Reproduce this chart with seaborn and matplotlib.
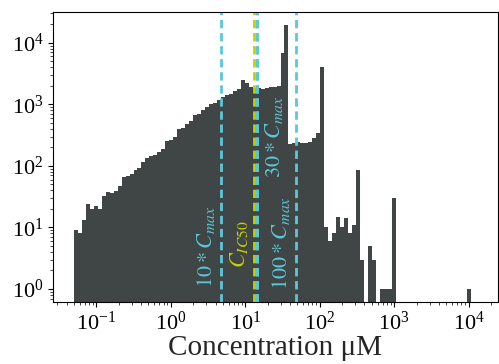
import numpy as np
import matplotlib
matplotlib.use('Agg')
import matplotlib.pyplot as plt
import seaborn as sns

# bar heights of the log-spaced histogram (100 bins)
counts = [9, 8, 13, 24, 20, 22, 20, 33, 37, 36,
          39, 47, 65, 68, 73, 87, 92, 115, 133, 145,
          151, 166, 185, 249, 260, 300, 400, 420, 480, 540,
          670, 700, 800, 920, 1020, 1060, 1180, 1320, 1400, 1480,
          1650, 1780, 2450, 2230, 1930, 1810, 1830, 1800, 1850, 1880,
          1880, 1970, 6900, 19300, 225, 235, 245, 235, 235, 240,
          280, 340, 4050, 10, 6, 8, 15, 10, 14, 8,
          11, 85, 3, 0, 5, 3, 0, 1, 1, 1,
          30, 0, 0, 0, 0, 0, 0, 0, 0, 0,
          0, 0, 0, 0, 0, 0, 0, 0, 0, 1]
bin_lo = 0.05
bin_hi = 10870
n_bins = 100

c_max = 0.48
c_ic50 = 13.1
cmax_factors = [10, 30, 100]

bar_color = '#404545'
cyan = '#5ac8da'
yellow = '#c6d000'

sns.set_style('ticks')
plt.rcParams['font.family'] = 'serif'
plt.rcParams['font.serif'] = ['Liberation Serif', 'DejaVu Serif']
plt.rcParams['mathtext.fontset'] = 'stix'

log_lo, log_hi = np.log10(bin_lo), np.log10(bin_hi)
step = (log_hi - log_lo) / n_bins
centers = 10 ** (log_lo + step * (np.arange(n_bins) + 0.5))

fig, ax = plt.subplots(figsize=(4.99, 3.64), dpi=100)
fig.subplots_adjust(left=0.107, right=0.997, bottom=0.171, top=0.967)

sns.histplot(x=centers, weights=counts, bins=n_bins, binrange=(log_lo, log_hi),
             log_scale=True, color=bar_color, alpha=1, linewidth=0, ax=ax)
ax.set_yscale('log')
ax.set_xlim(0.0265, 24500)
ax.set_ylim(0.62, 31600)

# reference lines
for f in cmax_factors:
    ax.axvline(f * c_max, color=cyan, ls='--', lw=2, dashes=(3, 1.7))
ax.axvline(c_ic50, color=yellow, ls='--', lw=2, dashes=(3, 1.7))
ax.axvline(30 * c_max, color=cyan, ls='--', lw=2, dashes=(3, 1.7))

fs = 16
ax.text(10 * c_max * 0.88, 1.05, r'$10 * C_{max}$', rotation=90, ha='right', va='bottom',
        color=cyan, fontsize=fs)
ax.text(c_ic50 * 0.875, 2.2, r'$C_{IC50}$', rotation=90, ha='right', va='bottom',
        color=yellow, fontsize=fs)
ax.text(30 * c_max * 1.19, 63, r'$30 * C_{max}$', rotation=90, ha='left', va='bottom',
        color=cyan, fontsize=fs)
ax.text(100 * c_max * 0.875, 0.95, r'$100 * C_{max}$', rotation=90, ha='right', va='bottom',
        color=cyan, fontsize=fs)

ax.set_xlabel('Concentration μM', fontsize=21, labelpad=0)
ax.set_ylabel('')
ax.tick_params(labelsize=16, colors='black')
for s in ax.spines.values():
    s.set_color('black')

fig.savefig('out.png', dpi=100)
